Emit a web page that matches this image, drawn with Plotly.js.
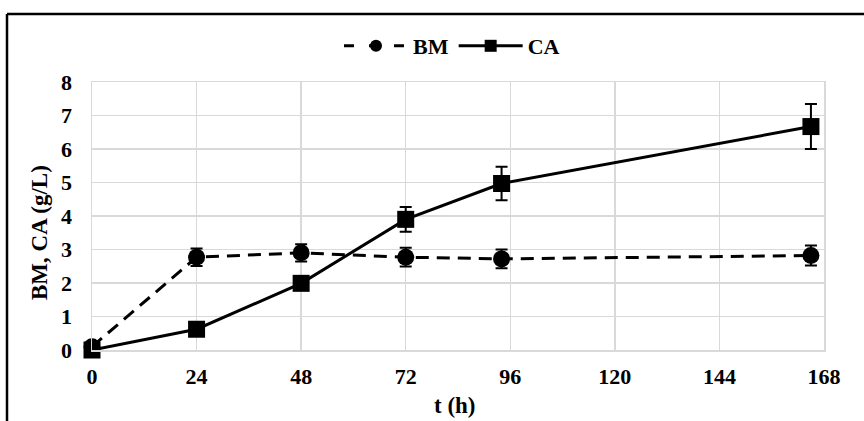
<!DOCTYPE html>
<html>
<head>
<meta charset="utf-8">
<script src="https://cdn.plot.ly/plotly-3.0.1.min.js"></script>
<style>
html,body{margin:0;padding:0;background:#fff;}
#chart{width:864px;height:421px;}
</style>
</head>
<body>
<div id="chart"></div>
<script>
const tBM = [0, 24, 48, 72, 94, 165];
const valBM = [0.1, 2.77, 2.9, 2.77, 2.72, 2.82];
const errBM = [0.1, 0.26, 0.26, 0.28, 0.28, 0.3];
const tCA = [0, 24, 48, 72, 94, 165];
const valCA = [0.0, 0.62, 1.99, 3.9, 4.97, 6.67];
const errCA = [0.0, 0.0, 0.0, 0.37, 0.5, 0.67];
const xTicks = [0, 24, 48, 72, 96, 120, 144, 168];
const yTicks = [0, 1, 2, 3, 4, 5, 6, 7, 8];
const seriesNames = ['BM', 'CA'];
const xTitle = 't (h)';
const yTitle = 'BM, CA (g/L)';

const font = 'Liberation Serif, Times New Roman, serif';
const W = 864, H = 421;
const m = {l: 92, r: 40, t: 82, b: 71};
const pw = W - m.l - m.r, ph = H - m.t - m.b;
const px = v => (v - m.l) / pw;
const py = v => 1 - (v - m.t) / ph;
const bfont = s => ({family: font, size: s, color: '#000', weight: 'bold'});
const dashBM = '13px,8px';

const traces = [
  {
    x: tBM, y: valBM, name: seriesNames[0], type: 'scatter', mode: 'lines+markers', showlegend: false,
    line: {color: '#000', width: 3, dash: dashBM},
    marker: {symbol: 'circle', size: 17, color: '#000'},
    error_y: {type: 'data', array: errBM, visible: true, color: '#000', thickness: 2, width: 6},
    cliponaxis: false
  },
  {
    x: tCA, y: valCA, name: seriesNames[1], type: 'scatter', mode: 'lines+markers', showlegend: false,
    line: {color: '#000', width: 3},
    marker: {symbol: 'square', size: 17, color: '#000'},
    error_y: {type: 'data', array: errCA, visible: true, color: '#000', thickness: 2, width: 6},
    cliponaxis: false
  },
  // legend entries (smaller legend symbols, as in the reference)
  {
    x: [null], y: [null], name: seriesNames[0], type: 'scatter', mode: 'lines+markers',
    line: {color: '#000', width: 3, dash: '10px,15px'},
    marker: {symbol: 'circle', size: 12, color: '#000'}
  },
  {
    x: [null], y: [null], name: seriesNames[1], type: 'scatter', mode: 'lines+markers',
    line: {color: '#000', width: 3},
    marker: {symbol: 'square', size: 12, color: '#000'}
  }
];

const layout = {
  width: W, height: H,
  margin: m,
  paper_bgcolor: '#fff', plot_bgcolor: '#fff',
  font: bfont(20),
  showlegend: true,
  legend: {
    orientation: 'h', x: px(452), xanchor: 'center', y: py(46), yanchor: 'middle',
    font: bfont(22), itemwidth: 64, tracegroupgap: 0, traceorder: 'normal'
  },
  xaxis: {
    range: [0, 168], tickvals: xTicks, ticktext: xTicks.map(String),
    showgrid: true, gridcolor: '#d9d9d9', gridwidth: 1.5,
    showline: true, linecolor: '#d9d9d9', linewidth: 1.5, mirror: true,
    zeroline: false, ticks: '', ticklabelstandoff: 6,
    tickfont: bfont(22)
  },
  yaxis: {
    range: [0, 8], tickvals: yTicks, ticktext: yTicks.map(String),
    showgrid: true, gridcolor: '#d9d9d9', gridwidth: 1.5,
    showline: true, linecolor: '#d9d9d9', linewidth: 1.5, mirror: true,
    zeroline: false, ticks: '', ticklabelstandoff: 14,
    tickfont: bfont(22)
  },
  annotations: [
    {text: xTitle, xref: 'paper', yref: 'paper', x: px(455), y: py(405), xanchor: 'center', yanchor: 'middle', showarrow: false, font: bfont(23)},
    {text: yTitle, xref: 'paper', yref: 'paper', x: px(39), y: py(233), xanchor: 'center', yanchor: 'middle', textangle: -90, showarrow: false, font: bfont(23)}
  ],
  shapes: [
    {type: 'line', xref: 'paper', yref: 'paper', x0: px(7), x1: px(866), y0: py(14), y1: py(14), line: {color: '#000', width: 2.5}},
    {type: 'line', xref: 'paper', yref: 'paper', x0: px(7), x1: px(7), y0: py(14), y1: py(425), line: {color: '#000', width: 2.5}}
  ]
};

Plotly.newPlot('chart', traces, layout, {displayModeBar: false, staticPlot: true});
</script>
</body>
</html>
